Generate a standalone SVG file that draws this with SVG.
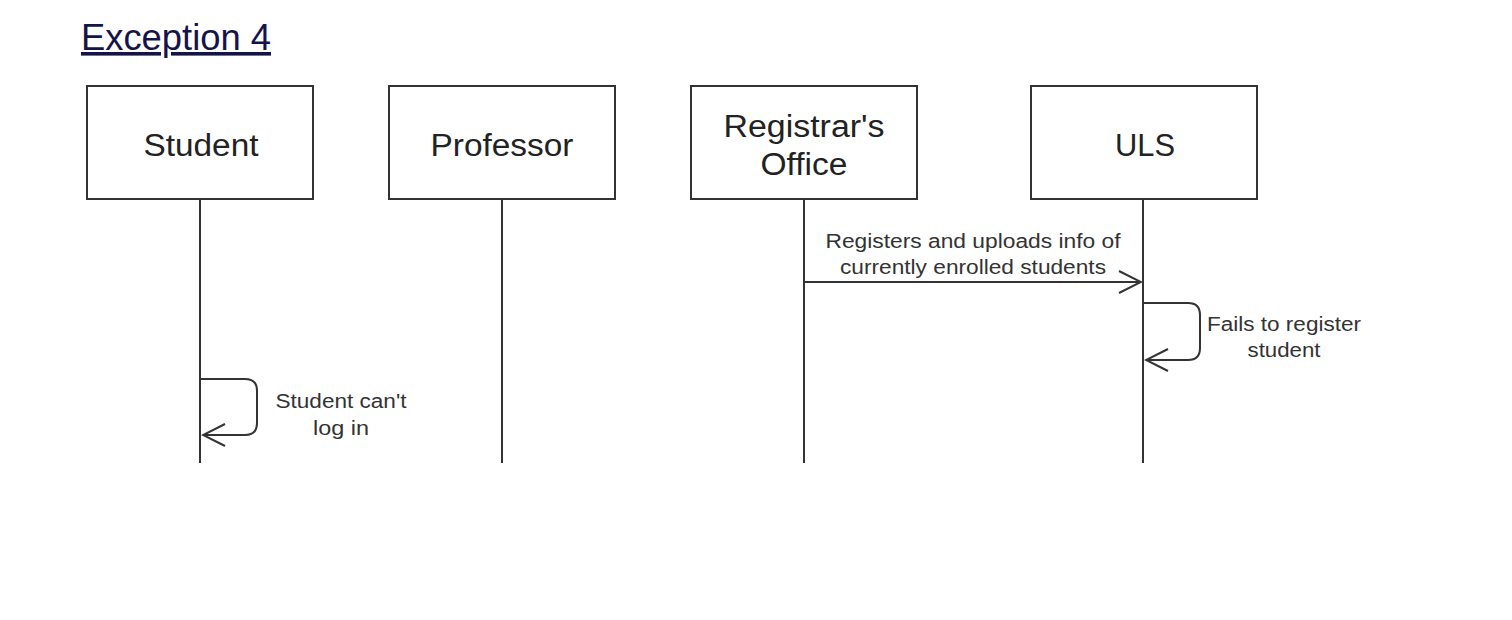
<svg xmlns="http://www.w3.org/2000/svg" width="1512" height="620" viewBox="0 0 1512 620">
<defs>
<style>
.box{fill:#fff;stroke:#333;stroke-width:2}
.life{stroke:#333;stroke-width:2;fill:none}
.msg{stroke:#333;stroke-width:2;fill:none}
.name{font-family:"Liberation Sans",Arial,sans-serif;font-size:31px;fill:#222;text-anchor:middle}
.lbl{font-family:"Liberation Sans",Arial,sans-serif;font-size:20px;fill:#333;text-anchor:middle}
.title{font-family:"Liberation Sans",Arial,sans-serif;font-size:36px;fill:#14144a;text-decoration:underline}
</style>
<marker id="open" markerWidth="26" markerHeight="26" refX="24" refY="13" orient="auto" markerUnits="userSpaceOnUse">
<path d="M2,2 L24,13 L2,24" fill="none" stroke="#333" stroke-width="2"/>
</marker>
</defs>
<rect width="1512" height="620" fill="#fff"/>
<text class="title" x="81" y="50" textLength="190" lengthAdjust="spacingAndGlyphs">Exception 4</text>
<g id="student">
<rect class="box" x="87" y="86" width="226" height="113"/>
<text class="name" x="201" y="156" textLength="115" lengthAdjust="spacingAndGlyphs">Student</text>
<line class="life" x1="200" y1="199" x2="200" y2="463"/>
</g>
<g id="professor">
<rect class="box" x="389" y="86" width="226" height="113"/>
<text class="name" x="502" y="156" textLength="143" lengthAdjust="spacingAndGlyphs">Professor</text>
<line class="life" x1="502" y1="199" x2="502" y2="463"/>
</g>
<g id="registrar">
<rect class="box" x="691" y="86" width="226" height="113"/>
<text class="name" x="804" y="137" textLength="161" lengthAdjust="spacingAndGlyphs">Registrar's</text>
<text class="name" x="804" y="175" textLength="87" lengthAdjust="spacingAndGlyphs">Office</text>
<line class="life" x1="804" y1="199" x2="804" y2="463"/>
</g>
<g id="uls">
<rect class="box" x="1031" y="86" width="226" height="113"/>
<text class="name" x="1145" y="156" textLength="60" lengthAdjust="spacingAndGlyphs">ULS</text>
<line class="life" x1="1143" y1="199" x2="1143" y2="463"/>
</g>
<g id="connectors">
<line class="msg" x1="804" y1="282" x2="1141" y2="282" marker-end="url(#open)"/>
<text class="lbl" x="973" y="248" textLength="295" lengthAdjust="spacingAndGlyphs">Registers and uploads info of</text>
<text class="lbl" x="973" y="274" textLength="266" lengthAdjust="spacingAndGlyphs">currently enrolled students</text>
<path class="msg" d="M200,379 H245 Q257,379 257,391 V423 Q257,435 245,435 H203" marker-end="url(#open)"/>
<text class="lbl" x="341" y="408" textLength="131" lengthAdjust="spacingAndGlyphs">Student can't</text>
<text class="lbl" x="341" y="435" textLength="56" lengthAdjust="spacingAndGlyphs">log in</text>
<path class="msg" d="M1143,303 H1188 Q1200,303 1200,315 V348 Q1200,360 1188,360 H1146" marker-end="url(#open)"/>
<text class="lbl" x="1284" y="331" textLength="154" lengthAdjust="spacingAndGlyphs">Fails to register</text>
<text class="lbl" x="1284" y="357" textLength="73" lengthAdjust="spacingAndGlyphs">student</text>
</g>
</svg>
